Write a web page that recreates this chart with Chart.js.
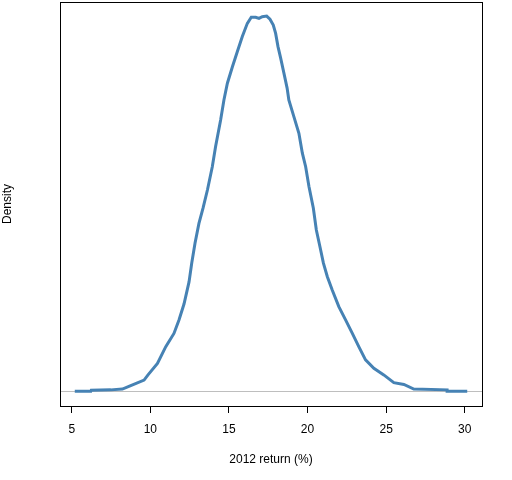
<!DOCTYPE html>
<html>
<head>
<meta charset="utf-8">
<script src="https://cdn.jsdelivr.net/npm/chart.js@4.4.1/dist/chart.umd.min.js"></script>
<style>
  html, body { margin: 0; padding: 0; background: #fff; }
  #wrap { width: 512px; height: 480px; }
</style>
</head>
<body>
<div id="wrap"><canvas id="chart" width="512" height="480"></canvas></div>
<script>
// density curve of 2012 returns
const returns = [5.19, 6.21, 6.24, 7.48, 8.22, 8.75, 9.60, 9.85, 10.45, 10.98, 11.50, 11.82,
  12.14, 12.46, 12.63, 12.84, 13.09, 13.35, 13.63, 13.94, 14.15, 14.47, 14.68, 14.90,
  15.22, 15.53, 15.85, 16.17, 16.42, 16.70, 16.91, 17.12, 17.40, 17.61, 17.82, 17.97,
  18.12, 18.29, 18.50, 18.70, 18.81, 19.13, 19.45, 19.67, 19.88, 20.09, 20.37, 20.56,
  20.79, 21.01, 21.26, 21.57, 21.99, 22.42, 22.85, 23.26, 23.69, 24.22, 24.85, 25.49,
  26.13, 26.76, 28.88, 28.88, 30.16];
const density = [0, 0, 0.0004, 0.0005, 0.0008, 0.0020, 0.0039, 0.0057, 0.0097, 0.0155, 0.0201, 0.0248,
  0.0303, 0.0380, 0.0445, 0.0514, 0.0583, 0.0636, 0.0699, 0.0780, 0.0850, 0.0942, 0.1012, 0.1070,
  0.1127, 0.1179, 0.1232, 0.1278, 0.1299, 0.1299, 0.1295, 0.1301, 0.1303, 0.1292, 0.1272, 0.1243,
  0.1197, 0.1157, 0.1104, 0.1053, 0.1012, 0.0954, 0.0896, 0.0827, 0.0780, 0.0711, 0.0636, 0.0560,
  0.0502, 0.0445, 0.0398, 0.0352, 0.0294, 0.0248, 0.0201, 0.0155, 0.0109, 0.0080, 0.0057, 0.0030,
  0.0024, 0.0008, 0.0005, 0, 0];
const xTicks = [5, 10, 15, 20, 25, 30];
const xRange = [4.25, 31.1];
const yRange = [-0.0051, 0.1352];

const points = returns.map((x, i) => ({ x: x, y: density[i] }));

// R style frame round the plot area
const boxPlugin = {
  id: 'box',
  afterDraw(chart) {
    const a = chart.chartArea;
    const ctx = chart.ctx;
    ctx.save();
    ctx.strokeStyle = '#000';
    ctx.lineWidth = 1;
    ctx.strokeRect(Math.round(a.left) + 0.5, Math.round(a.top) + 0.5,
      Math.round(a.right - a.left), Math.round(a.bottom - a.top));
    ctx.restore();
  }
};

Chart.defaults.font.family = '"Liberation Sans", Arial, sans-serif';
Chart.defaults.font.size = 12;
Chart.defaults.color = '#000';

new Chart(document.getElementById('chart').getContext('2d'), {
  type: 'line',
  data: {
    datasets: [{
      data: points,
      borderColor: '#4682b4',
      borderWidth: 3,
      pointRadius: 0,
      tension: 0,
      fill: false
    }]
  },
  options: {
    responsive: false,
    animation: false,
    layout: { padding: { top: 2, right: 30, left: 0, bottom: 0 } },
    plugins: { legend: { display: false }, tooltip: { enabled: false } },
    scales: {
      x: {
        type: 'linear',
        min: xRange[0],
        max: xRange[1],
        afterFit: s => { s.height = 74; },
        afterBuildTicks: s => { s.ticks = xTicks.map(v => ({ value: v })); },
        grid: { drawOnChartArea: false, color: '#000', tickLength: 7, tickWidth: 1 },
        border: { display: false },
        ticks: { padding: 9, maxRotation: 0, autoSkip: false },
        title: { display: true, text: '2012 return (%)', padding: { top: 0, bottom: 13 } }
      },
      y: {
        min: yRange[0],
        max: yRange[1],
        afterFit: s => { s.width = 60; },
        afterBuildTicks: s => { s.ticks = [{ value: 0 }]; },
        grid: { color: '#bebebe', lineWidth: 1, drawTicks: false },
        border: { display: false },
        ticks: { display: false },
        title: { display: true, text: 'Density', padding: { top: 0, bottom: 3 } }
      }
    }
  },
  plugins: [boxPlugin]
});
</script>
</body>
</html>
